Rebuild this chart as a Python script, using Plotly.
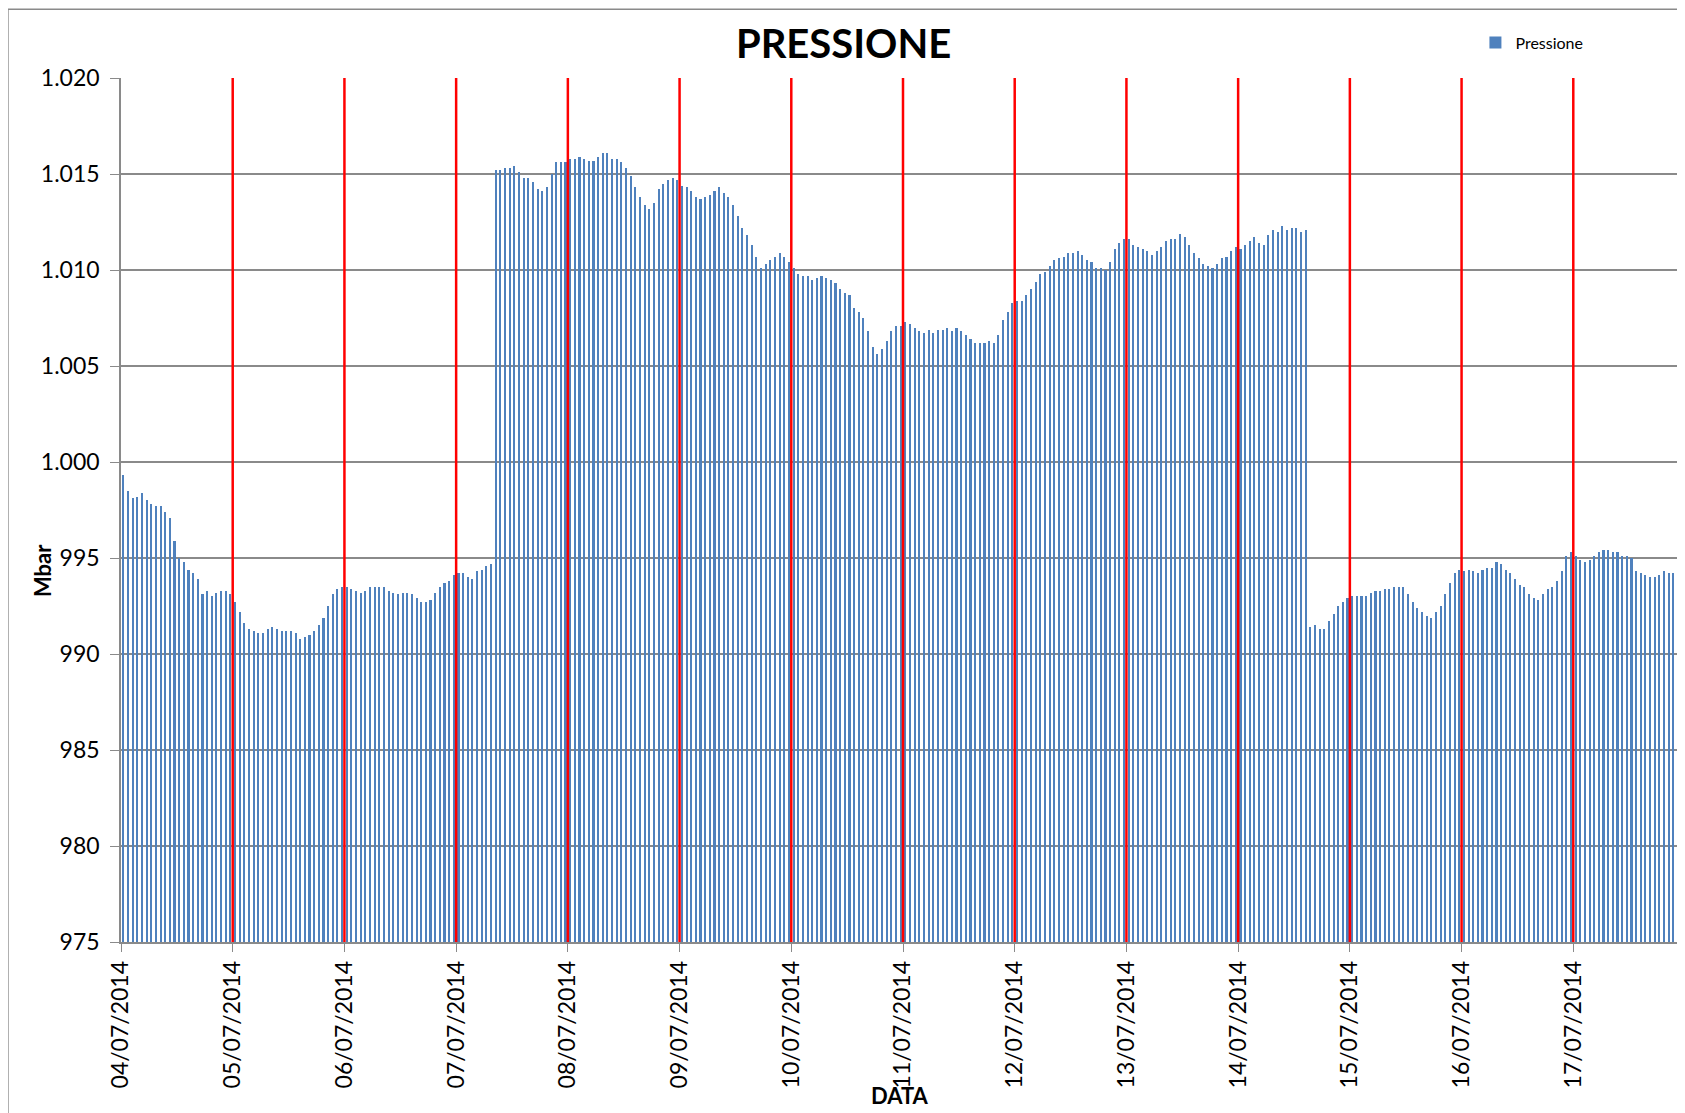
"""Hourly pressure bars (04/07/2014 - 17/07/2014) with red day separators."""

import plotly.graph_objects as go

DAYS = [
    "04/07/2014", "05/07/2014", "06/07/2014", "07/07/2014", "08/07/2014",
    "09/07/2014", "10/07/2014", "11/07/2014", "12/07/2014", "13/07/2014",
    "14/07/2014", "15/07/2014", "16/07/2014", "17/07/2014",
]

# hourly readings (mbar), 24 per day
P_04 = [999.3, 998.5, 998.1, 998.2, 998.4, 998.0, 997.8, 997.7, 997.7, 997.4, 997.1, 995.9,
        995.0, 994.8, 994.4, 994.2, 993.9, 993.1, 993.3, 993.0, 993.2, 993.3, 993.3, 993.1]
P_05 = [992.7, 992.2, 991.6, 991.3, 991.2, 991.1, 991.1, 991.3, 991.4, 991.3, 991.2, 991.2,
        991.2, 991.1, 990.8, 990.9, 991.0, 991.2, 991.5, 991.9, 992.5, 993.1, 993.4, 993.5]
P_06 = [993.5, 993.4, 993.3, 993.2, 993.3, 993.5, 993.5, 993.5, 993.5, 993.3, 993.2, 993.1,
        993.2, 993.2, 993.1, 992.9, 992.7, 992.7, 992.8, 993.2, 993.5, 993.7, 993.8, 994.1]
P_07 = [994.2, 994.2, 994.0, 993.9, 994.3, 994.4, 994.6, 994.7, 1015.2, 1015.2, 1015.3, 1015.3,
        1015.4, 1015.1, 1014.8, 1014.8, 1014.6, 1014.2, 1014.1, 1014.3, 1015.0, 1015.6, 1015.6, 1015.6]
P_08 = [1015.8, 1015.8, 1015.9, 1015.8, 1015.7, 1015.7, 1015.9, 1016.1, 1016.1, 1015.8, 1015.8, 1015.6,
        1015.3, 1014.9, 1014.3, 1013.8, 1013.4, 1013.2, 1013.5, 1014.2, 1014.5, 1014.7, 1014.8, 1014.7]
P_09 = [1014.4, 1014.3, 1014.1, 1013.8, 1013.7, 1013.8, 1013.9, 1014.1, 1014.3, 1014.0, 1013.8, 1013.4,
        1012.8, 1012.2, 1011.8, 1011.3, 1010.7, 1010.1, 1010.3, 1010.5, 1010.7, 1010.9, 1010.7, 1010.4]
P_10 = [1010.1, 1009.8, 1009.7, 1009.7, 1009.5, 1009.6, 1009.7, 1009.6, 1009.5, 1009.3, 1009.0, 1008.8,
        1008.7, 1008.0, 1007.8, 1007.5, 1006.8, 1006.0, 1005.6, 1005.9, 1006.3, 1006.8, 1007.1, 1007.1]
P_11 = [1007.3, 1007.2, 1007.0, 1006.8, 1006.7, 1006.9, 1006.7, 1006.9, 1006.9, 1007.0, 1006.8, 1007.0,
        1006.8, 1006.6, 1006.4, 1006.2, 1006.2, 1006.2, 1006.3, 1006.2, 1006.6, 1007.4, 1007.8, 1008.3]
P_12 = [1008.4, 1008.4, 1008.7, 1009.0, 1009.4, 1009.8, 1009.9, 1010.2, 1010.5, 1010.6, 1010.7, 1010.9,
        1010.9, 1011.0, 1010.8, 1010.5, 1010.4, 1010.1, 1010.1, 1010.0, 1010.4, 1011.1, 1011.4, 1011.6]
P_13 = [1011.6, 1011.3, 1011.2, 1011.1, 1011.0, 1010.8, 1011.0, 1011.2, 1011.5, 1011.6, 1011.6, 1011.9,
        1011.7, 1011.3, 1010.9, 1010.6, 1010.3, 1010.2, 1010.1, 1010.3, 1010.6, 1010.7, 1011.0, 1011.2]
P_14 = [1011.1, 1011.3, 1011.5, 1011.7, 1011.4, 1011.3, 1011.8, 1012.1, 1012.0, 1012.3, 1012.1, 1012.2,
        1012.2, 1012.0, 1012.1, 991.4, 991.5, 991.3, 991.3, 991.7, 992.1, 992.5, 992.7, 992.9]
P_15 = [993.0, 993.0, 993.0, 993.0, 993.2, 993.3, 993.3, 993.4, 993.4, 993.5, 993.5, 993.5,
        993.1, 992.7, 992.4, 992.2, 992.0, 991.9, 992.2, 992.5, 993.1, 993.7, 994.2, 994.4]
P_16 = [994.3, 994.4, 994.3, 994.2, 994.4, 994.5, 994.5, 994.8, 994.7, 994.4, 994.2, 993.9,
        993.6, 993.5, 993.1, 992.9, 992.8, 993.1, 993.4, 993.5, 993.8, 994.3, 995.1, 995.3]
P_17 = [995.1, 994.9, 994.8, 994.9, 995.1, 995.3, 995.4, 995.4, 995.3, 995.3, 995.1, 995.1,
        995.0, 994.3, 994.2, 994.1, 994.0, 994.0, 994.1, 994.3, 994.2, 994.2, 994.1, 994.1]

Y_TICKS = [975, 980, 985, 990, 995, 1000, 1005, 1010, 1015, 1020]
Y_LABELS = ["975", "980", "985", "990", "995", "1.000", "1.005", "1.010", "1.015", "1.020"]

pressure = (P_04 + P_05 + P_06 + P_07 + P_08 + P_09 + P_10
            + P_11 + P_12 + P_13 + P_14 + P_15 + P_16 + P_17)
hours = [i + 0.5 for i in range(len(pressure))]
day_starts = [24 * d for d in range(len(DAYS))]

GRID = "#8a8a8a"
FONT = "Lato"

fig = go.Figure()
fig.add_trace(
    go.Bar(
        x=hours,
        y=pressure,
        width=0.45,
        name="Pressione",
        marker_color="#4F81BD",
        marker_line_width=0,
        showlegend=True,
    )
)

for d in day_starts[1:]:
    fig.add_vline(x=d, line_color="#FF0000", line_width=2.5, layer="above")

# page body adds an 8px offset, so the figure is 8px smaller than the window
fig.update_layout(
    width=1677,
    height=1105,
    margin=dict(l=113, r=0, t=70, b=171),
    paper_bgcolor="white",
    plot_bgcolor="white",
    font=dict(family=FONT, color="black", size=23),
    title=dict(
        text="<b>PRESSIONE</b>",
        font=dict(family=FONT, size=40, color="black"),
        x=0.462, xanchor="center", xref="paper",
        y=0.9674, yanchor="middle",
    ),
    showlegend=True,
    legend=dict(
        x=0.866, xanchor="left", y=1.041, yanchor="middle",
        font=dict(family=FONT, size=16),
        bgcolor="rgba(0,0,0,0)",
    ),
    bargap=0,
    xaxis=dict(
        range=[0, len(pressure)],
        tickvals=day_starts,
        ticktext=DAYS,
        tickangle=-90,
        ticks="outside",
        ticklen=8,
        tickcolor=GRID,
        showline=True,
        linecolor=GRID,
        linewidth=1.5,
        showgrid=False,
        zeroline=False,
        tickfont=dict(family=FONT, size=23),
    ),
    yaxis=dict(
        range=[975, 1020],
        tickvals=Y_TICKS,
        ticktext=Y_LABELS,
        ticks="outside",
        ticklen=9,
        tickcolor=GRID,
        showline=True,
        linecolor=GRID,
        linewidth=1.5,
        showgrid=True,
        gridcolor=GRID,
        gridwidth=1.5,
        zeroline=False,
        tickfont=dict(family=FONT, size=23),
        ticklabelstandoff=6,
    ),
)

fig.add_annotation(
    text="<b>Mbar</b>", textangle=-90, showarrow=False,
    xref="paper", yref="paper", x=-0.0501, y=0.430,
    xanchor="center", yanchor="middle",
    font=dict(family=FONT, size=22),
)
fig.add_annotation(
    text="<b>DATA</b>", showarrow=False,
    xref="paper", yref="paper", x=0.498, y=-0.1776,
    xanchor="center", yanchor="middle",
    font=dict(family=FONT, size=22),
)

# chart area border (left and top edges visible in the cropped picture)
fig.add_shape(type="line", xref="paper", yref="paper",
              x0=-0.0723, x1=-0.0723, y0=1.0795, y1=-0.25,
              line=dict(color=GRID, width=1.5))
fig.add_shape(type="line", xref="paper", yref="paper",
              x0=-0.0723, x1=1.0, y0=1.0795, y1=1.0795,
              line=dict(color=GRID, width=1.5))

fig.write_html("out.html")
